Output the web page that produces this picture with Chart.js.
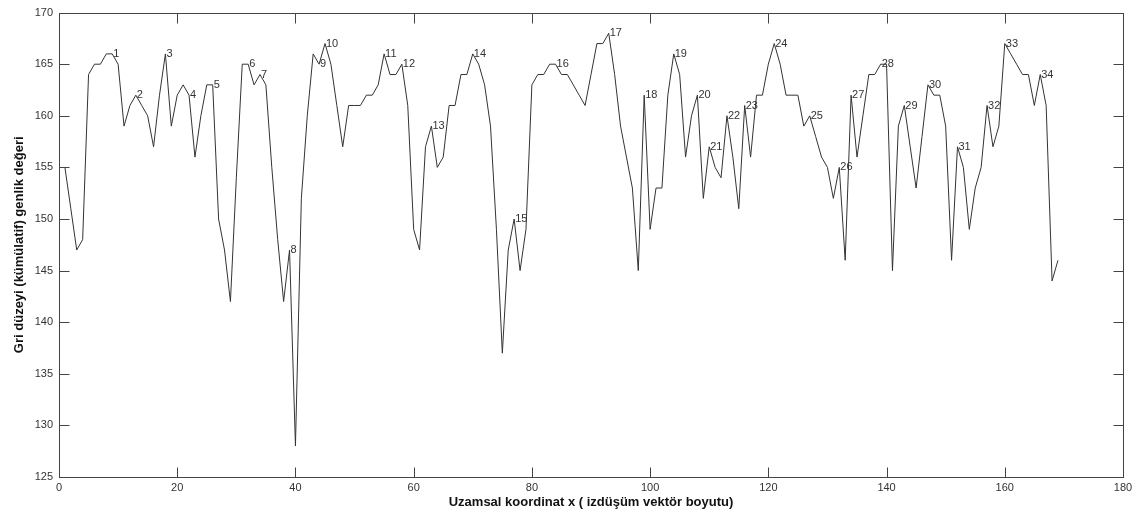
<!DOCTYPE html>
<html>
<head>
<meta charset="utf-8">
<script src="https://cdn.jsdelivr.net/npm/chart.js@4/dist/chart.umd.min.js"></script>
<style>
  body { margin: 0; background: #fff; }
  #wrap { width: 1137px; height: 517px; }
</style>
</head>
<body>
<div id="wrap"><canvas id="myChart" width="1137" height="517"></canvas></div>
<script>
// gray level (cumulative) along the projection vector, x = 1..169
const grayLevels = [
  155, 151, 147, 148, 164, 165, 165, 166, 166, 165,
  159, 161, 162, 161, 160, 157, 162, 166, 159, 162,
  163, 162, 156, 160, 163, 163, 150, 147, 142, 154,
  165, 165, 163, 164, 163, 155, 148, 142, 147, 128,
  152, 160, 166, 165, 167, 165, 161, 157, 161, 161,
  161, 162, 162, 163, 166, 164, 164, 165, 161, 149,
  147, 157, 159, 155, 156, 161, 161, 164, 164, 166,
  165, 163, 159, 149, 137, 147, 150, 145, 149, 163,
  164, 164, 165, 165, 164, 164, 163, 162, 161, 164,
  167, 167, 168, 164, 159, 156, 153, 145, 162, 149,
  153, 153, 162, 166, 164, 156, 160, 162, 152, 157,
  155, 154, 160, 156, 151, 161, 156, 162, 162, 165,
  167, 165, 162, 162, 162, 159, 160, 158, 156, 155,
  152, 155, 146, 162, 156, 160, 164, 164, 165, 165,
  145, 159, 161, 157, 153, 158, 163, 162, 162, 159,
  146, 157, 155, 149, 153, 155, 161, 157, 159, 167,
  166, 165, 164, 164, 161, 164, 161, 144, 146
]
// x positions of the numbered peaks 1..34
const peakX = [9, 13, 18, 22, 26, 32, 34, 39, 44, 45, 55, 58, 63, 70, 77, 84, 93, 99, 104, 108,
  110, 113, 116, 121, 127, 132, 134, 139, 143, 147, 152, 157, 160, 166]

const xTicks = [0, 20, 40, 60, 80, 100, 120, 140, 160, 180]
const yTicks = [125, 130, 135, 140, 145, 150, 155, 160, 165, 170]

const points = grayLevels.map((v, i) => ({x: i + 1, y: v}))
const fam = "'Liberation Sans', Arial, sans-serif"

// matlab style box with inward ticks + peak numbers
const frame = {
  id: 'frame',
  afterDatasetsDraw(chart){
    const {ctx, chartArea: a, scales: {x, y}} = chart
    ctx.save()
    ctx.strokeStyle = '#444'
    ctx.lineWidth = 1
    const L = Math.round(a.left) + .5, R = Math.round(a.right) + .5
    const T = Math.round(a.top) + .5, B = Math.round(a.bottom) + .5
    ctx.strokeRect(L, T, R - L, B - T)
    ctx.beginPath()
    x.ticks.forEach(t => {
      const px = Math.round(x.getPixelForValue(t.value)) + .5
      ctx.moveTo(px, B); ctx.lineTo(px, B - 10)
      ctx.moveTo(px, T); ctx.lineTo(px, T + 10)
    })
    y.ticks.forEach(t => {
      const py = Math.round(y.getPixelForValue(t.value)) + .5
      ctx.moveTo(L, py); ctx.lineTo(L + 10, py)
      ctx.moveTo(R, py); ctx.lineTo(R - 10, py)
    })
    ctx.stroke()

    ctx.fillStyle = '#333'
    ctx.font = '11px ' + fam
    ctx.textAlign = 'left'
    ctx.textBaseline = 'middle'
    peakX.forEach((px, i) => {
      ctx.fillText(String(i + 1), x.getPixelForValue(px) + 1, y.getPixelForValue(grayLevels[px - 1]))
    })
    ctx.restore()
  }
}

const ctx = document.getElementById('myChart')

let grafik = new Chart(ctx, {
  type: 'line',
  data: {
    datasets: [{
      data: points,
      borderColor: '#333',
      borderWidth: 1,
      pointRadius: 0,
      tension: 0,
      fill: false
    }]
  },
  options: {
    responsive: false,
    animation: false,
    layout: { padding: { top: 12, right: 14, left: 0, bottom: 0 } },
    plugins: {
      legend: { display: false },
      tooltip: { enabled: false }
    },
    scales: {
      x: {
        type: 'linear',
        min: 0,
        max: 180,
        afterBuildTicks: s => { s.ticks = xTicks.map(v => ({value: v})) },
        afterFit: s => { s.height = 40 },
        grid: { display: false, drawTicks: false },
        border: { display: false },
        ticks: { padding: 4, color: '#333', font: { family: fam, size: 11 }, maxRotation: 0 },
        title: {
          display: true,
          text: 'Uzamsal koordinat x ( izdüşüm vektör boyutu)',
          color: '#111',
          font: { family: fam, size: 13, weight: 'bold' },
          padding: { top: 0, bottom: 7 }
        }
      },
      y: {
        min: 125,
        max: 170,
        afterBuildTicks: s => { s.ticks = yTicks.map(v => ({value: v})) },
        afterFit: s => { s.width = 59 },
        grid: { display: false, drawTicks: false },
        border: { display: false },
        ticks: { padding: 6, color: '#333', font: { family: fam, size: 11 } },
        title: {
          display: true,
          text: 'Gri düzeyi (kümülatif) genlik değeri',
          color: '#111',
          font: { family: fam, size: 13, weight: 'bold' },
          padding: { top: 12, bottom: 0 }
        }
      }
    }
  },
  plugins: [frame]
})
</script>
</body>
</html>
